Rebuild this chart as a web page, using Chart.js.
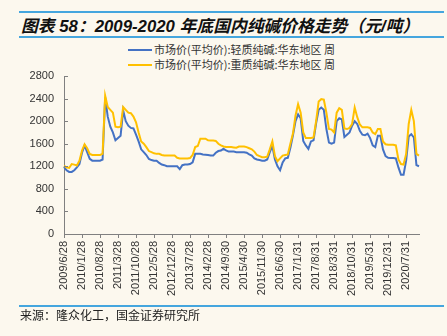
<!DOCTYPE html>
<html lang="zh-CN">
<head>
<meta charset="utf-8">
<title>纯碱价格走势</title>
<script src="https://cdn.jsdelivr.net/npm/chart.js@4.4.1/dist/chart.umd.min.js"></script>
<style>
  html, body { margin: 0; padding: 0; background: #fcf8ee; }
  #wrap { position: relative; width: 447px; height: 336px; overflow: hidden; background: #fcf8ee; }
  #wrap canvas { position: absolute; left: 0; top: 0; }
  .rule { position: absolute; left: 19px; width: 425px; height: 2px; background: #45a6de; }
  #title {
    position: absolute; left: 21px; top: 13px; white-space: nowrap; color: #111;
    font: italic bold 16.8px "Liberation Sans", "Noto Sans CJK SC", sans-serif;
  }
  .legend { position: absolute; left: 128px; white-space: nowrap; color: #333;
    font: 11px "Noto Sans CJK SC", sans-serif; line-height: 14px; }
  .legend i { display: inline-block; width: 24px; height: 2px; vertical-align: middle; margin-right: 2px; position: relative; top: -1px; }
  #source { position: absolute; left: 20px; white-space: nowrap; color: #222;
    font: 12px "Noto Sans CJK SC", sans-serif; }
</style>
</head>
<body>
<div id="wrap">
  <div class="rule" style="top:11px"></div>
  <div id="title">图表 58：2009-2020 年底国内纯碱价格走势（元/吨）</div>
  <div class="rule" style="top:36px"></div>
  <div class="legend" style="top:42px"><i style="background:#4472c4"></i>市场价(平均价):轻质纯碱:华东地区 周</div>
  <div class="legend" style="top:57px"><i style="background:#ffc000"></i>市场价(平均价):重质纯碱:华东地区 周</div>
  <canvas id="sodaChart" width="447" height="336"></canvas>
  <div class="rule" style="top:305px"></div>
  <div id="source" style="top:306px">来源：隆众化工，国金证券研究所</div>
</div>
<script>
// monthly points, 2009/6 .. 2020/12
const categories = [];
for (let i = 0; i < 139; i++) {
  const y = 2009 + Math.floor((5 + i) / 12);
  const m = ((5 + i) % 12) + 1;
  categories.push(y + "/" + m);
}

const tickLabels = [
  "2009/6/28", "2010/1/28", "2010/8/28", "2011/3/28", "2011/10/28",
  "2012/5/28", "2012/12/28", "2013/7/28", "2014/2/28", "2014/9/30",
  "2015/4/30", "2015/11/30", "2016/6/30", "2017/1/31", "2017/8/31",
  "2018/3/31", "2018/10/31", "2019/5/31", "2019/12/31", "2020/7/31"
];

const yTicks = [0, 400, 800, 1200, 1600, 2000, 2400, 2800];

// 轻质纯碱
const lightSoda = [
  1190, 1130, 1100, 1100, 1130, 1180, 1240, 1440, 1570, 1450,
  1330, 1300, 1300, 1300, 1300, 1320, 2420, 2080, 1900, 1800,
  1660, 1700, 1740, 2190, 2000, 1920, 1880, 1870, 1760, 1640,
  1500, 1450, 1400, 1330, 1310, 1300, 1300, 1260, 1230, 1220,
  1200, 1200, 1200, 1200, 1200, 1150, 1220, 1230, 1230, 1240,
  1270, 1420, 1420, 1420, 1410, 1405, 1400, 1390, 1390, 1440,
  1470, 1480, 1510, 1480, 1460, 1460, 1460, 1450, 1450, 1450,
  1450, 1440, 1410, 1390, 1340, 1320, 1310, 1300, 1300, 1320,
  1450, 1560, 1320, 1200, 1130, 1270, 1340, 1350, 1530, 1750,
  2000, 2120, 2050, 1650, 1570, 1510, 1640, 1660, 1960, 2200,
  2240, 2200, 1860, 1620, 1600, 1620, 2000, 2050, 2030, 1720,
  1760, 1800, 1920, 2000, 1950, 1830, 1760, 1750, 1780, 1700,
  1570, 1540, 1740, 1740, 1500, 1380, 1350, 1345, 1345, 1340,
  1180, 1050, 1050, 1300, 1730, 1770, 1710, 1220, 1200
];

// 重质纯碱
const denseSoda = [
  1210, 1180, 1170, 1240, 1230, 1215, 1300, 1480, 1590, 1520,
  1420, 1400, 1400, 1400, 1400, 1420, 2450, 2250, 2200, 2150,
  1900, 1890, 1900, 2250, 2200, 2150, 2140, 2080, 1980, 1800,
  1640, 1600, 1540, 1470, 1450, 1430, 1420, 1420, 1400, 1390,
  1390, 1390, 1390, 1390, 1350, 1340, 1340, 1340, 1340, 1345,
  1400, 1540, 1560, 1690, 1690, 1690, 1660, 1655, 1655, 1650,
  1600, 1570, 1550, 1540, 1540, 1540, 1535, 1530, 1550, 1550,
  1550, 1540, 1520, 1500, 1460, 1400, 1380, 1360, 1360, 1370,
  1500, 1640, 1380, 1290, 1340, 1390, 1400, 1410, 1600, 1780,
  2100, 2300, 2150, 1800, 1700, 1700, 1700, 1710, 2000, 2350,
  2390, 2380, 2150, 1860, 1850, 1800, 2150, 2230, 2200, 1870,
  1860, 1880, 1950, 2240, 2070, 1940, 1890, 1890, 1890, 1880,
  1800, 1770, 1860, 1860, 1640, 1590, 1580, 1580, 1580, 1570,
  1320, 1240, 1230, 1420, 1950, 2200, 2000, 1420, 1390
];

// short ticks pointing into the plot on the value axis
const innerTicks = {
  id: "innerTicks",
  afterDatasetsDraw(chart) {
    const ys = chart.scales.y;
    const ctx = chart.ctx;
    const left = chart.chartArea.left;
    ctx.save();
    ctx.strokeStyle = "#808080";
    ctx.lineWidth = 1;
    ys.ticks.forEach((t, i) => {
      const py = Math.round(ys.getPixelForTick(i)) + 0.5;
      ctx.beginPath();
      ctx.moveTo(left, py);
      ctx.lineTo(left + 4, py);
      ctx.stroke();
    });
    ctx.restore();
  }
};

const ctx = document.getElementById("sodaChart").getContext("2d");

new Chart(ctx, {
  type: "line",
  data: {
    labels: categories,
    datasets: [
      {
        label: "市场价(平均价):轻质纯碱:华东地区 周",
        data: lightSoda,
        borderColor: "#4472c4",
        borderWidth: 2,
        pointRadius: 0,
        tension: 0,
        order: 1
      },
      {
        label: "市场价(平均价):重质纯碱:华东地区 周",
        data: denseSoda,
        borderColor: "#ffc000",
        borderWidth: 2,
        pointRadius: 0,
        tension: 0,
        order: 0
      }
    ]
  },
  options: {
    responsive: false,
    animation: false,
    layout: { padding: { left: 0, top: 76, right: 28, bottom: 0 } },
    plugins: { legend: { display: false }, tooltip: { enabled: false } },
    scales: {
      x: {
        offset: false,
        grid: { drawOnChartArea: false, tickLength: 4, color: "#808080" },
        border: { color: "#808080" },
        ticks: {
          autoSkip: false,
          maxRotation: 90,
          minRotation: 90,
          padding: 3,
          color: "#333",
          font: { family: "Liberation Sans", size: 11 },
          callback: function (value, index) {
            const key = categories[index] + "/";
            const t = tickLabels.find(s => s.startsWith(key));
            return t || null;
          }
        },
        afterFit: function (scale) { scale.height = 102; }
      },
      y: {
        min: 0,
        max: 2800,
        afterBuildTicks: function (scale) {
          scale.ticks = yTicks.map(v => ({ value: v }));
        },
        grid: { drawOnChartArea: false, drawTicks: false },
        border: { color: "#808080" },
        ticks: {
          padding: 10,
          color: "#333",
          font: { family: "Liberation Sans", size: 11 },
          callback: function (value) { return String(value); }
        },
        afterFit: function (scale) { scale.width = 64; }
      }
    }
  },
  plugins: [innerTicks]
});
</script>
</body>
</html>
